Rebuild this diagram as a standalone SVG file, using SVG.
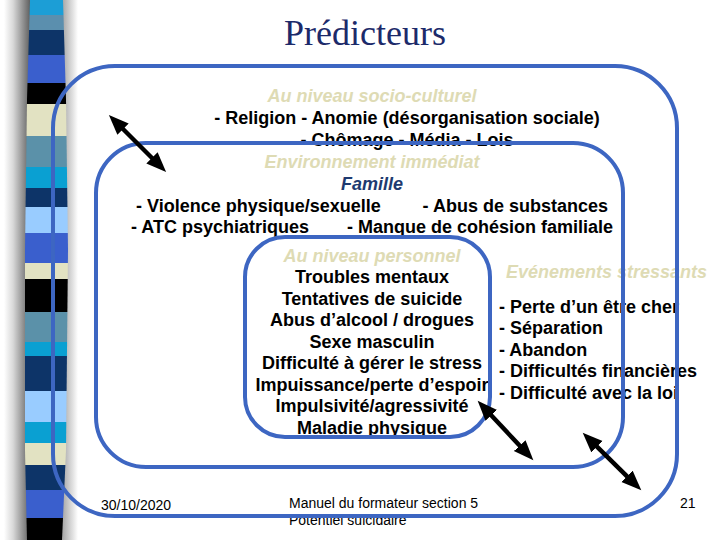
<svg xmlns="http://www.w3.org/2000/svg" width="720" height="540" viewBox="0 0 720 540">
<style>
.frame{fill:none;stroke:#3D66C2;stroke-width:4}
.t{font-family:"Liberation Sans",Arial,sans-serif;font-weight:bold;font-size:18px;fill:#000}
.h{font-family:"Liberation Sans",Arial,sans-serif;font-weight:bold;font-style:italic;font-size:18px;fill:#DEDBB4}
.fam{font-family:"Liberation Sans",Arial,sans-serif;font-weight:bold;font-style:italic;font-size:18px;fill:#1E3A70}
.ft{font-family:"Liberation Sans",Arial,sans-serif;font-size:14px;fill:#000}
.conn{stroke:#000;stroke-width:4.5;fill:none;marker-start:url(#ah);marker-end:url(#ah)}
</style>
<defs>
<marker id="ah" markerUnits="userSpaceOnUse" markerWidth="22" markerHeight="18" refX="5" refY="8" orient="auto-start-reverse">
<path d="M0,0 L20,8 L0,16 Z" fill="#000"/>
</marker>
<clipPath id="barclip">
<path d="M30,0 L63,0 L66,100 L68,250 L66,450 L62,540 L27,540 L25,450 L25,250 L27,100 Z"/>
</clipPath>
<linearGradient id="shL" x1="0" x2="1" y1="0" y2="0">
<stop offset="0" stop-color="#fff"/>
<stop offset="0.35" stop-color="#d8d8d8"/>
<stop offset="1" stop-color="#606060"/>
</linearGradient>
<linearGradient id="shR" x1="0" x2="1" y1="0" y2="0">
<stop offset="0" stop-color="#999"/>
<stop offset="1" stop-color="#fff"/>
</linearGradient>
</defs>
<rect width="720" height="540" fill="#fff"/>
<g id="sidebar">
<rect x="4" y="0" width="26" height="540" fill="url(#shL)"/>
<rect x="60" y="0" width="18" height="540" fill="url(#shR)"/>
<g clip-path="url(#barclip)">
<rect x="20" y="0" width="55" height="15" fill="#1C9ED6"/>
<rect x="20" y="15" width="55" height="15" fill="#5B8FAE"/>
<rect x="20" y="30" width="55" height="25" fill="#0D3468"/>
<rect x="20" y="55" width="55" height="28" fill="#3A5FCD"/>
<rect x="20" y="83" width="55" height="21" fill="#000"/>
<rect x="20" y="104" width="55" height="32" fill="#E2E2C2"/>
<rect x="20" y="136" width="55" height="31" fill="#5B91A9"/>
<rect x="20" y="167" width="55" height="21" fill="#0AA0D2"/>
<rect x="20" y="188" width="55" height="19" fill="#0D3468"/>
<rect x="20" y="207" width="55" height="26" fill="#99CCFF"/>
<rect x="20" y="233" width="55" height="30" fill="#3A5FCD"/>
<rect x="20" y="263" width="55" height="16" fill="#E2E2C2"/>
<rect x="20" y="279" width="55" height="33" fill="#000"/>
<rect x="20" y="312" width="55" height="30" fill="#5B91A9"/>
<rect x="20" y="342" width="55" height="14" fill="#0AA0D2"/>
<rect x="20" y="356" width="55" height="35" fill="#0D3468"/>
<rect x="20" y="391" width="55" height="31" fill="#99CCFF"/>
<rect x="20" y="422" width="55" height="21" fill="#0AA0D2"/>
<rect x="20" y="443" width="55" height="22" fill="#E2E2C2"/>
<rect x="20" y="465" width="55" height="25" fill="#0D3468"/>
<rect x="20" y="490" width="55" height="28" fill="#3A5FCD"/>
<rect x="20" y="518" width="55" height="22" fill="#000"/>
</g>
</g>
<text id="title" x="365" y="45" text-anchor="middle" font-family="'Liberation Serif','Times New Roman',serif" font-size="36" fill="#1C2A6A">Prédicteurs</text>
<g id="socio-culturel">
<text class="h" x="372" y="102" text-anchor="middle">Au niveau socio-culturel</text>
<text class="t" x="407" y="124" text-anchor="middle">- Religion - Anomie (désorganisation sociale)</text>
<text class="t" x="407" y="146" text-anchor="middle">- Chômage - Média - Lois</text>
</g>
<g id="environnement">
<text class="h" x="372" y="168" text-anchor="middle">Environnement immédiat</text>
<text class="fam" x="372" y="190" text-anchor="middle">Famille</text>
<text class="t" x="136" y="212">- Violence physique/sexuelle</text>
<text class="t" x="608" y="212" text-anchor="end">- Abus de substances</text>
<text class="t" x="131" y="233">- ATC psychiatriques</text>
<text class="t" x="613" y="233" text-anchor="end">- Manque de cohésion familiale</text>
</g>
<g id="evenements">
<text class="h" x="506" y="278">Evénements stressants</text>
<text class="t" x="499" y="313">- Perte d’un être cher</text>
<text class="t" x="499" y="334">- Séparation</text>
<text class="t" x="499" y="355.5">- Abandon</text>
<text class="t" x="499" y="377">- Difficultés financières</text>
<text class="t" x="499" y="398.5">- Difficulté avec la loi</text>
</g>
<g id="personnel">
<text class="h" x="372" y="262" text-anchor="middle">Au niveau personnel</text>
<text class="t" x="372" y="283" text-anchor="middle">Troubles mentaux</text>
<text class="t" x="372" y="304.5" text-anchor="middle">Tentatives de suicide</text>
<text class="t" x="372" y="326" text-anchor="middle">Abus d’alcool / drogues</text>
<text class="t" x="372" y="347.5" text-anchor="middle">Sexe masculin</text>
<text class="t" x="372" y="369" text-anchor="middle">Difficulté à gérer le stress</text>
<text class="t" x="372" y="390.5" text-anchor="middle">Impuissance/perte d’espoir</text>
<text class="t" x="372" y="412" text-anchor="middle">Impulsivité/agressivité</text>
<text class="t" x="372" y="433.5" text-anchor="middle">Maladie physique</text>
</g>
<g id="footer">
<text class="ft" x="101" y="510">30/10/2020</text>
<text class="ft" x="289" y="508">Manuel du formateur section 5</text>
<text class="ft" x="289" y="525">Potentiel suicidaire</text>
<text class="ft" x="680" y="508">21</text>
</g>
<g id="frames">
<rect id="frame-socio" class="frame" x="53" y="66" width="624" height="450" rx="62" ry="62"/>
<rect id="frame-env" class="frame" x="96" y="143" width="527" height="324" rx="50" ry="50"/>
<rect id="frame-perso" class="frame" x="245" y="237" width="245" height="200" rx="40" ry="40"/>
</g>
<g id="connectors">
<line class="conn" x1="119.5" y1="125.5" x2="155.5" y2="161.5"/>
<line class="conn" x1="487.9" y1="411.7" x2="523.1" y2="449.3"/>
<line class="conn" x1="593.4" y1="443.2" x2="630.6" y2="479.8"/>
</g>
</svg>
